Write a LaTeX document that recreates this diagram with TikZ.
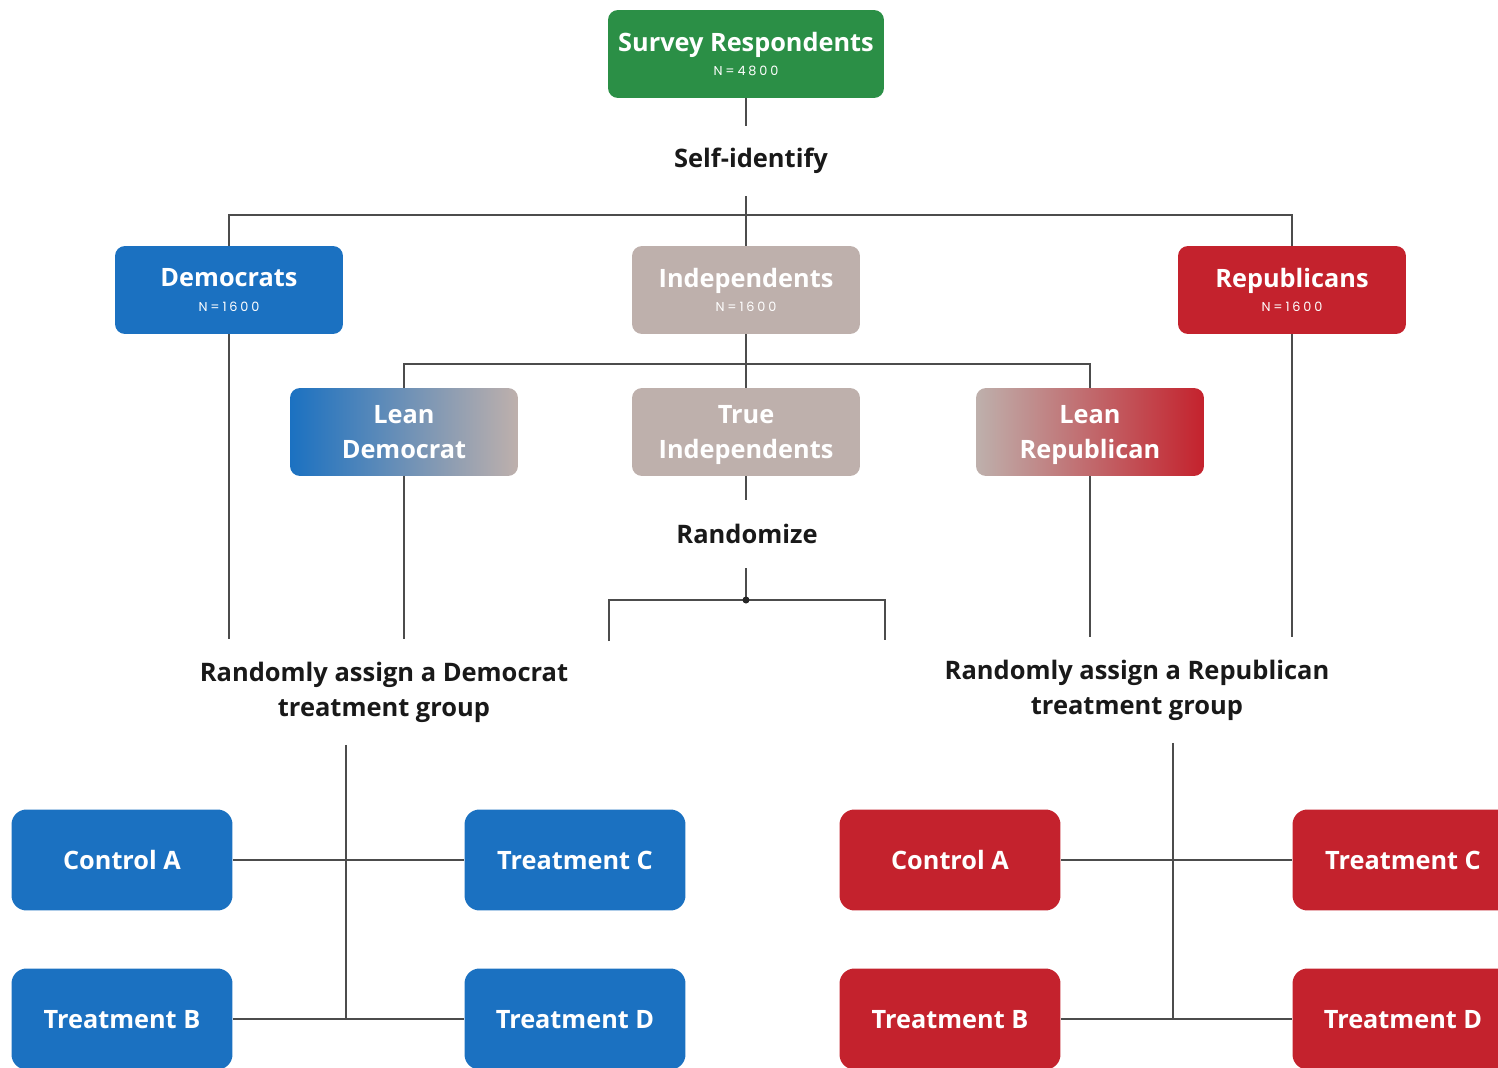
\documentclass[tikz,border=0pt]{standalone}
\usepackage{fontspec}
\setmainfont{Open Sans}
\newfontfamily\countfont[LetterSpace=22]{Poppins}
\usetikzlibrary{positioning}
\definecolor{surveygreen}{RGB}{43,143,70}
\definecolor{demblue}{RGB}{27,113,193}
\definecolor{indgray}{RGB}{190,176,172}
\definecolor{repred}{RGB}{196,34,45}
\newcommand{\countline}[1]{{\countfont\mdseries\fontsize{7.3}{8}\selectfont #1}}
\tikzstyle{groupbox} = [rectangle, rounded corners=0.2cm, minimum width=4.56cm, minimum height=1.76cm, inner sep=0pt, text depth=0pt, align=center, text=white, font=\bfseries\fontsize{14.4}{20}\selectfont]
\tikzstyle{armbox} = [groupbox, rounded corners=0.3cm, minimum width=4.42cm, minimum height=2.02cm]
\tikzstyle{steplabel} = [inner sep=0pt, align=center, text=black!90, font=\bfseries\fontsize{14.5}{20}\selectfont]
\tikzstyle{link} = [draw=black!70, line width=1pt]

\begin{document}
\begin{tikzpicture}[x=0.02cm, y=-0.02cm]
  \useasboundingbox (0,0) rectangle (1498,1068);
  \clip (0,0) rectangle (1498,1068);

  % top of the tree
  \node[groupbox, minimum width=5.52cm, fill=surveygreen] (survey) at (746,54) {Survey Respondents\\[-6pt]\countline{N=4800}};
  \node[steplabel, minimum height=1.4cm] (selfid) at (751,161) {Self-identify};
  \node[groupbox, fill=demblue] (dem) at (229,290) {Democrats\\[-6pt]\countline{N=1600}};
  \node[groupbox, fill=indgray] (indep) at (746,290) {Independents\\[-6pt]\countline{N=1600}};
  \node[groupbox, fill=repred] (rep) at (1292,290) {Republicans\\[-6pt]\countline{N=1600}};

  % independents
  \node[groupbox, left color=demblue, right color=indgray] (leandem) at (404,432) {Lean\\Democrat};
  \node[groupbox, fill=indgray] (trueind) at (746,432) {True\\Independents};
  \node[groupbox, left color=indgray, right color=repred] (leanrep) at (1090,432) {Lean\\Republican};
  \node[steplabel, minimum height=1.36cm] (randomize) at (747,534) {Randomize};

  \node[steplabel, minimum height=2.1cm] (assigndem) at (384,692) {Randomly assign a Democrat\\treatment group};
  \node[steplabel, minimum height=2.1cm] (assignrep) at (1137,690) {Randomly assign a Republican\\treatment group};

  % treatment groups
  \node[armbox, fill=demblue] (ctrlAdem) at (122,860) {Control A};
  \node[armbox, fill=demblue] (treatCdem) at (575,860) {Treatment C};
  \node[armbox, fill=demblue] (treatBdem) at (122,1019) {Treatment B};
  \node[armbox, fill=demblue] (treatDdem) at (575,1019) {Treatment D};
  \node[armbox, fill=repred] (ctrlArep) at (950,860) {Control A};
  \node[armbox, fill=repred] (treatCrep) at (1403,860) {Treatment C};
  \node[armbox, fill=repred] (treatBrep) at (950,1019) {Treatment B};
  \node[armbox, fill=repred] (treatDrep) at (1403,1019) {Treatment D};

  \coordinate (partysplit) at (746,215);
  \coordinate (indsplit) at (746,364);
  \coordinate (randsplit) at (746,600);
  \coordinate (randleft) at (609,641);
  \coordinate (randright) at (885,640);
  \coordinate (demhub) at (346,861);
  \coordinate (rephub) at (1173,861);

  \draw[link] (survey) -- (survey |- selfid.north);
  \draw[link] (indep |- selfid.south) -- (indep);
  \draw[link] (dem) |- (partysplit) -| (rep);
  \draw[link] (indep) -- (indsplit);
  \draw[link] (leandem) |- (indsplit) -| (leanrep);
  \draw[link] (indsplit) -- (trueind);
  \draw[link] (trueind) -- (trueind |- randomize.north);
  \draw[link] (randsplit |- randomize.south) -- (randsplit);
  \draw[link] (randleft) |- (randsplit) -| (randright);
  \fill[black!85] (randsplit) circle (0.07cm);
  \draw[link] (dem) -- (dem |- assigndem.north);
  \draw[link] (leandem) -- (leandem |- assigndem.north);
  \draw[link] (leanrep) -- (leanrep |- assignrep.north);
  \draw[link] (rep) -- (rep |- assignrep.north);

  \draw[link] (assigndem.south -| demhub) -- (demhub |- treatBdem);
  \draw[link] (ctrlAdem) -- (treatCdem);
  \draw[link] (treatBdem) -- (treatDdem);
  \draw[link] (assignrep.south -| rephub) -- (rephub |- treatBrep);
  \draw[link] (ctrlArep) -- (treatCrep);
  \draw[link] (treatBrep) -- (treatDrep);
\end{tikzpicture}
\end{document}
